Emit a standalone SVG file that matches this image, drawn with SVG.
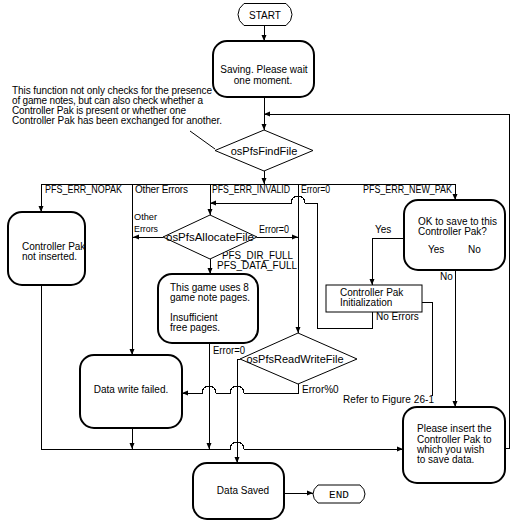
<svg xmlns="http://www.w3.org/2000/svg" width="513" height="524" viewBox="0 0 513 524">
<defs>
<marker id="ah" markerWidth="6" markerHeight="6" refX="6" refY="3" orient="auto" markerUnits="userSpaceOnUse"><path d="M0,0.5 L6,3 L0,5.5 z" fill="#000"/></marker>
<style>
text{font-family:"Liberation Sans",Arial,sans-serif;font-size:10px;fill:#000}
.big{font-size:11px}
.sm{font-size:9.5px}
.mono{font-family:"Liberation Mono","Courier New",monospace;font-size:11px}
.rb{fill:#fff;stroke:#000;stroke-width:2}
.th{fill:#fff;stroke:#000;stroke-width:1}
.c{fill:none;stroke:#000;stroke-width:1}
.a{marker-end:url(#ah)}
.m{text-anchor:middle}
</style>
</defs>
<rect width="513" height="524" fill="#fff"/>
<g id="connectors" shape-rendering="crispEdges">
<path class="c a" d="M264,26 V41"/>
<path class="c a" d="M264,97 V130"/>
<path class="c a" d="M264,171 V184"/>
<path class="c" d="M41,184 H455"/>
<path class="c a" d="M41,184 V212"/>
<path class="c a" d="M132,184 V355"/>
<path class="c a" d="M210,184 V215"/>
<path class="c a" d="M298,184 V333"/>
<path class="c a" d="M455,184 V200"/>
<path class="c a" d="M163,237 H133"/>
<path class="c a" d="M257,237 H298"/>
<path class="c a" d="M210,259 V274"/>
<path class="c a" d="M404,238 H372 V285"/>
<path class="c a" d="M455,270 V407"/>
<path class="c" d="M422,302 H432 V396"/>
<path class="c a" d="M372,312 V328 H317 V203 H305 A7,7 0 0 0 291,203 H210"/>
<path class="c a" d="M298,384 V393 H244 A7,7 0 0 0 230,393 H216 A7,7 0 0 0 202,393 H182"/>
<path class="c a" d="M240,359 H237 V463"/>
<path class="c a" d="M209,343 V449"/>
<path class="c a" d="M132,428 V449"/>
<path class="c a" d="M41,285 V449 H230 A7,7 0 0 1 244,449 H403"/>
<path class="c a" d="M505,448 H509 V114 H264"/>
<path class="c a" d="M284,493 H313"/>
<text x="45" y="193" textLength="77" lengthAdjust="spacingAndGlyphs">PFS_ERR_NOPAK</text>
<text x="135" y="193" textLength="53">Other Errors</text>
<text x="212" y="193" textLength="78" lengthAdjust="spacingAndGlyphs">PFS_ERR_INVALID</text>
<text x="301" y="193" textLength="29" lengthAdjust="spacingAndGlyphs">Error=0</text>
<text x="363" y="193" textLength="89" lengthAdjust="spacingAndGlyphs">PFS_ERR_NEW_PAK</text>
<text class="sm" x="134" y="220" textLength="23" lengthAdjust="spacingAndGlyphs">Other</text>
<text class="sm" x="134" y="231.5" textLength="24" lengthAdjust="spacingAndGlyphs">Errors</text>
<text x="259" y="233" textLength="30" lengthAdjust="spacingAndGlyphs">Error=0</text>
<text x="222" y="259" textLength="71" lengthAdjust="spacingAndGlyphs">PFS_DIR_FULL</text>
<text x="217" y="269" textLength="80" lengthAdjust="spacingAndGlyphs">PFS_DATA_FULL</text>
<text x="375" y="233">Yes</text>
<text x="440" y="280">No</text>
<text x="376" y="320">No Errors</text>
<text x="213" y="354" textLength="32" lengthAdjust="spacingAndGlyphs">Error=0</text>
<text x="302" y="393">Error%0</text>
<text x="343" y="403" textLength="91">Refer to Figure 26-1</text>
</g>
<g id="note">
<path class="c" d="M190,131 L215,149"/>
<text x="12" y="94" textLength="200">This function not only checks for the presence</text>
<text x="12" y="104" textLength="191">of game notes, but can also check whether a</text>
<text x="12" y="114" textLength="174">Controller Pak is present or whether one</text>
<text x="12" y="124" textLength="210">Controller Pak has been exchanged for another.</text>
</g>
<g id="start">
<path class="th" d="M244,3.5 H286 Q292,8 292,14.5 Q292,21 286,25.5 H244 Q238,21 238,14.5 Q238,8 244,3.5 Z"/>
<text class="m" x="265" y="18.5">START</text>
</g>
<g id="saving">
<rect class="rb" x="213" y="41" width="101" height="56" rx="14"/>
<text class="m" x="264" y="73">Saving. Please wait</text>
<text class="m" x="263" y="84">one moment.</text>
</g>
<g id="findfile">
<polygon class="th" points="264,130 313,150.5 264,171 215,150.5"/>
<text class="big m" x="264" y="154.5">osPfsFindFile</text>
</g>
<g id="notinserted">
<rect class="rb" x="8" y="212" width="77" height="73" rx="14"/>
<text x="22" y="250">Controller Pak</text>
<text x="22" y="260">not inserted.</text>
</g>
<g id="allocate">
<polygon class="th" points="210,215 257,237 210,259 163,237"/>
<text class="big m" x="210" y="241" textLength="88" lengthAdjust="spacingAndGlyphs">osPfsAllocateFile</text>
</g>
<g id="gamepages">
<rect class="rb" x="158" y="274" width="100" height="69" rx="14"/>
<text x="170" y="291">This game uses 8</text>
<text x="170" y="301">game note pages.</text>
<text x="170" y="321">Insufficient</text>
<text x="170" y="331">free pages.</text>
</g>
<g id="init">
<rect class="th" x="326" y="285" width="96" height="27"/>
<text x="340" y="296">Controller Pak</text>
<text x="340" y="306">Initialization</text>
</g>
<g id="oksave">
<rect class="rb" x="404" y="200" width="101" height="70" rx="14"/>
<text x="418" y="225">OK to save to this</text>
<text x="418" y="235">Controller Pak?</text>
<text x="428" y="253">Yes</text>
<text x="468" y="253">No</text>
</g>
<g id="readwrite">
<polygon class="th" points="298,333 357,359 298,384 240,359"/>
<text class="big m" x="295" y="363">osPfsReadWriteFile</text>
</g>
<g id="writefailed">
<rect class="rb" x="80" y="355" width="102" height="73" rx="14"/>
<text class="m" x="131" y="393">Data write failed.</text>
</g>
<g id="insert">
<rect class="rb" x="403" y="407" width="102" height="76" rx="14"/>
<text x="417" y="432">Please insert the</text>
<text x="417" y="442.5">Controller Pak to</text>
<text x="417" y="453">which you wish</text>
<text x="417" y="463">to save data.</text>
</g>
<g id="saved">
<rect class="rb" x="193" y="463" width="91" height="56" rx="14"/>
<text class="m" x="243" y="494">Data Saved</text>
</g>
<g id="end">
<path class="th" d="M318,485 H360 Q365,489 365,494 Q365,499 360,503 H318 Q313,499 313,494 Q313,489 318,485 Z"/>
<text class="mono m" x="339" y="498">END</text>
</g>
</svg>
